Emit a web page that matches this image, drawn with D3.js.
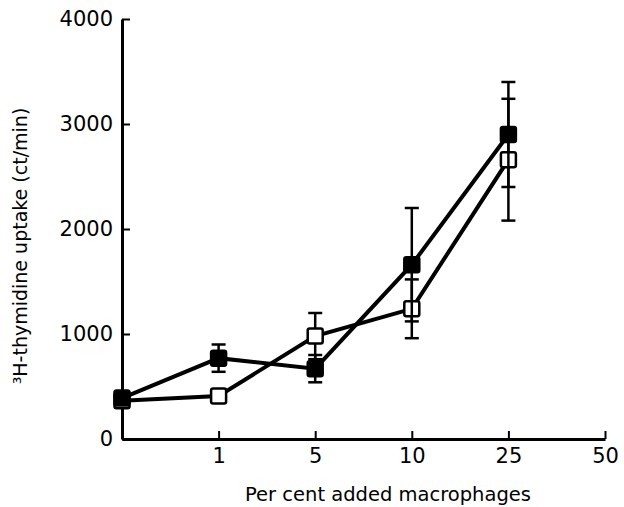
<!DOCTYPE html>
<html>
<head>
<meta charset="utf-8">
<script src="https://d3js.org/d3.v7.min.js"></script>
<style>
  body { margin: 0; background: #fff; }
  svg { display: block; }
  svg text { font-family: "DejaVu Sans", sans-serif; }
</style>
</head>
<body>
<div id="chart"></div>
<script>
// Per cent added macrophages (category positions, evenly spaced)
const categories = ['0', '1', '5', '10', '25', '50'];
const tickLabels = ['1', '5', '10', '25', '50'];
const yTicks = [0, 1000, 2000, 3000, 4000];

// filled squares
const filledX = ['0', '1', '5', '10', '25'];
const filledY = [390, 770, 670, 1660, 2900];
const filledErr = [60, 130, 130, 540, 500];

// open squares
const openX = ['0', '1', '5', '10', '25'];
const openY = [365, 410, 980, 1240, 2660];
const openErr = [0, 0, 220, 280, 580];

const width = 624, height = 507;

const svg = d3.select('#chart').append('svg')
    .attr('width', width)
    .attr('height', height);

const x = d3.scalePoint().domain(categories).range([122, 605]);
const y = d3.scaleLinear().domain([0, 4000]).range([439, 19]);

// Eksenler
const xAxis = svg.append('g')
    .attr('transform', `translate(0,${y(0)})`)
    .call(d3.axisBottom(x).tickValues(tickLabels).tickSizeInner(-8).tickSizeOuter(0).tickPadding(9));
xAxis.select('.domain').attr('stroke-width', 3);
xAxis.selectAll('.tick line').attr('stroke-width', 2);
xAxis.selectAll('text').style('font-size', '21px').attr('fill', '#000');

const yAxis = svg.append('g')
    .attr('transform', `translate(${x('0')},0)`)
    .call(d3.axisLeft(y).tickValues(yTicks).tickFormat(d3.format('d')).tickSizeInner(-8).tickSizeOuter(0).tickPadding(9));
yAxis.select('.domain').attr('stroke-width', 3);
yAxis.selectAll('.tick line').attr('stroke-width', 2);
yAxis.selectAll('text').style('font-size', '21px').attr('fill', '#000');

// Eksen başlıkları
svg.append('text')
    .attr('x', 388)
    .attr('y', 501)
    .attr('text-anchor', 'middle')
    .style('font-size', '19.5px')
    .text('Per cent added macrophages');

svg.append('text')
    .attr('transform', 'translate(27,246) rotate(-90)')
    .attr('text-anchor', 'middle')
    .style('font-size', '19px')
    .text('³H-thymidine uptake (ct/min)');

function drawSeries(xs, ys, errs, fill) {
    const pts = xs.map((c, i) => ({ c, v: ys[i], e: errs[i] }));

    const bars = svg.append('g').attr('stroke', '#000').attr('stroke-width', 2.5);
    pts.filter(d => d.e > 0).forEach(d => {
        const cx = x(d.c);
        bars.append('line').attr('x1', cx).attr('x2', cx).attr('y1', y(d.v - d.e)).attr('y2', y(d.v + d.e));
        bars.append('line').attr('x1', cx - 7).attr('x2', cx + 7).attr('y1', y(d.v + d.e)).attr('y2', y(d.v + d.e));
        bars.append('line').attr('x1', cx - 7).attr('x2', cx + 7).attr('y1', y(d.v - d.e)).attr('y2', y(d.v - d.e));
    });

    svg.append('path')
        .datum(pts)
        .attr('fill', 'none')
        .attr('stroke', '#000')
        .attr('stroke-width', 4)
        .attr('d', d3.line().x(d => x(d.c)).y(d => y(d.v)));

    svg.append('g').selectAll('rect')
        .data(pts)
        .enter()
        .append('rect')
        .attr('x', d => x(d.c) - 7.5)
        .attr('y', d => y(d.v) - 7.5)
        .attr('width', 15)
        .attr('height', 15)
        .attr('rx', 2)
        .attr('fill', fill)
        .attr('stroke', '#000')
        .attr('stroke-width', 2.5);
}

drawSeries(openX, openY, openErr, '#fff');
drawSeries(filledX, filledY, filledErr, '#000');
</script>
</body>
</html>
